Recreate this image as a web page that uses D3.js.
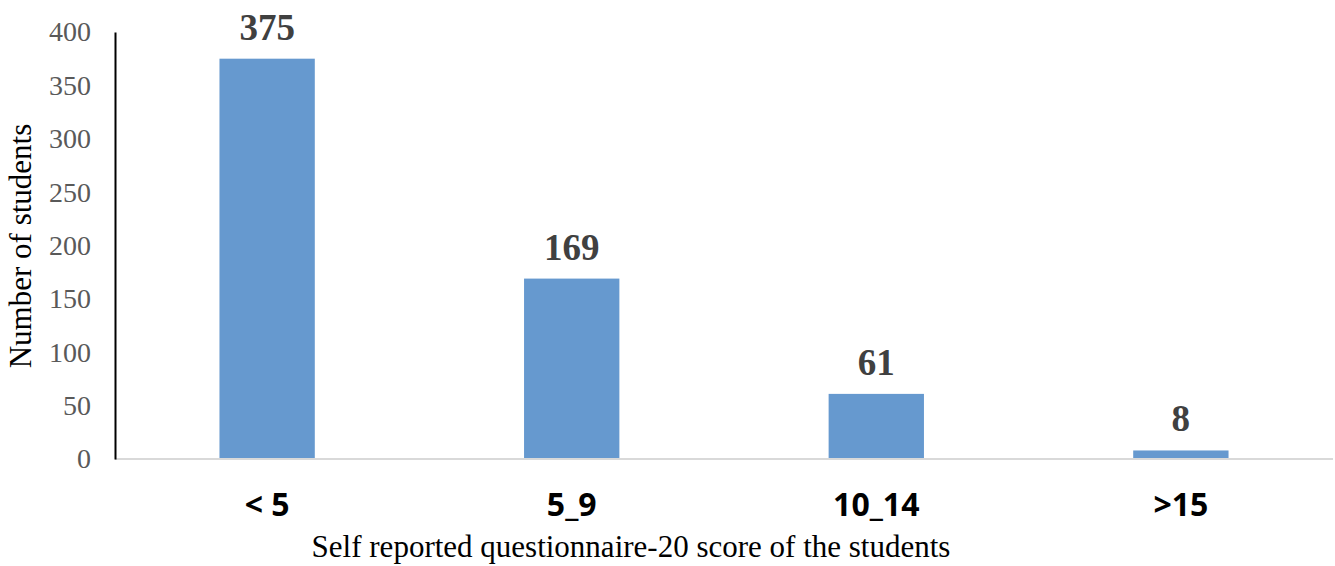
<!DOCTYPE html>
<html><head><meta charset="utf-8">
<script src="https://cdn.jsdelivr.net/npm/d3@7"></script>
<style>html,body{margin:0;padding:0;background:#fff;}</style>
</head><body>
<svg id="chart" width="1335" height="566"></svg>
<script>
const categories = ["< 5", "5_9", "10_14", ">15"];
const values = [375, 169, 61, 8];
const yTicks = [0, 50, 100, 150, 200, 250, 300, 350, 400];

const svg = d3.select("#chart");
const W = 1335, H = 566;
const m = {left: 115, right: 2, top: 32, bottom: H - 459};

const x = d3.scaleBand().domain(categories).range([m.left, W - m.right]).paddingInner(0.687).paddingOuter(0.343);
const y = d3.scaleLinear().domain([0, 400]).range([H - m.bottom, m.top]);

// bars
svg.selectAll("rect.bar").data(values).join("rect")
  .attr("class", "bar")
  .attr("x", (d, i) => x(categories[i]))
  .attr("width", x.bandwidth())
  .attr("y", d => y(d))
  .attr("height", d => y(0) - y(d))
  .attr("fill", "#6699cf");

// x axis line
svg.append("line").attr("x1", m.left).attr("x2", W - m.right)
  .attr("y1", y(0)).attr("y2", y(0)).attr("stroke", "#d9d9d9").attr("stroke-width", 2);

// y axis
const yAxis = d3.axisLeft(y).tickValues(yTicks).tickSize(0).tickPadding(24);
const gy = svg.append("g").attr("transform", `translate(${m.left},0)`).call(yAxis);
gy.select(".domain").attr("stroke", "#000").attr("stroke-width", 2);
gy.selectAll("text").attr("font-family", "Liberation Serif, Times New Roman, serif")
  .attr("font-size", 28).attr("fill", "#595959");

// x axis labels
const xAxis = d3.axisBottom(x).tickSize(0).tickPadding(34);
const gx = svg.append("g").attr("transform", `translate(0,${y(0)})`).call(xAxis);
gx.select(".domain").remove();
gx.selectAll("text").attr("font-family", "Open Sans, sans-serif").attr("font-weight", "bold")
  .attr("font-size", 32).attr("fill", "#000");

// value labels
svg.selectAll("text.val").data(values).join("text")
  .attr("class", "val")
  .attr("x", (d, i) => x(categories[i]) + x.bandwidth() / 2)
  .attr("y", d => y(d) - 19)
  .attr("text-anchor", "middle")
  .attr("font-family", "Liberation Serif, Times New Roman, serif")
  .attr("font-weight", "bold").attr("font-size", 37).attr("fill", "#404040")
  .text(d => d);

// axis titles
svg.append("text").attr("x", 631).attr("y", 557).attr("text-anchor", "middle")
  .attr("font-family", "Liberation Serif, Times New Roman, serif").attr("font-size", 31).attr("fill", "#000")
  .text("Self reported questionnaire-20 score of the students");
svg.append("text").attr("transform", "translate(31,246) rotate(-90)").attr("text-anchor", "middle")
  .attr("font-family", "Liberation Serif, Times New Roman, serif").attr("font-size", 31).attr("fill", "#000")
  .text("Number of students");
</script>
</body></html>
